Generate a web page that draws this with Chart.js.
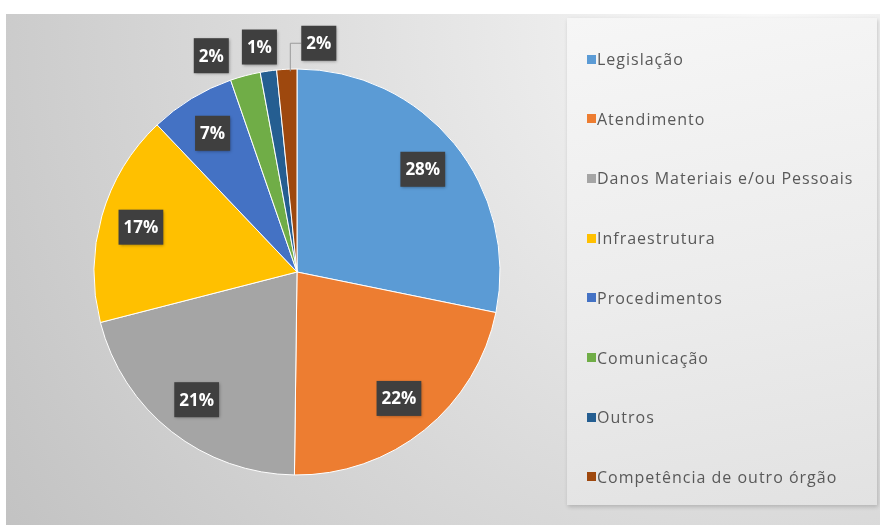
<!DOCTYPE html>
<html>
<head>
<meta charset="utf-8">
<script src="https://cdn.jsdelivr.net/npm/chart.js@4.4.0/dist/chart.umd.min.js"></script>
<style>
  body { margin: 0; background: #fff; width: 880px; height: 525px; overflow: hidden; position: relative; }
  #pie { position: absolute; left: 0; top: 0; }
  #legendBox {
    position: absolute; left: 567px; top: 18px; width: 310px; height: 487px;
    background: linear-gradient(170deg, #f6f6f6 0%, #ececec 55%, #e2e2e2 100%);
    box-shadow: 1px 2px 4px rgba(0,0,0,0.18);
  }
  .item { position: absolute; left: 20px; height: 20px; display: flex; align-items: center;
    font-family: "Open Sans", sans-serif; font-size: 16px; letter-spacing: 1px; color: #595959; white-space: nowrap; }
  .sw { width: 9px; height: 9px; margin-right: 1px; flex: none; }
</style>
</head>
<body>
<canvas id="pie" width="880" height="525"></canvas>
<div id="legendBox"></div>
<script>
const categories = ['Legislação', 'Atendimento', 'Danos Materiais e/ou Pessoais', 'Infraestrutura',
  'Procedimentos', 'Comunicação', 'Outros', 'Competência de outro órgão'];
const shares = [28.2, 22.0, 20.8, 16.9, 6.8, 2.4, 1.3, 1.6];
const sliceColors = ['#5B9BD5', '#ED7D31', '#A5A5A5', '#FFC000', '#4472C4', '#70AD47', '#255E91', '#9E480E'];

// small slices get their label outside, nudged from the slice's outer edge
const outsideNudge = { 5: [-34, -20], 6: [-9, -24], 7: [32, -26] };

// legend (html, built from the same arrays)
const box = document.getElementById('legendBox');
categories.forEach((name, i) => {
  const el = document.createElement('div');
  el.className = 'item';
  el.style.top = (31 + i * 59.7) + 'px';
  el.innerHTML = '<span class="sw" style="background:' + sliceColors[i] + '"></span>' + name;
  box.appendChild(el);
});

const background = {
  id: 'background',
  beforeDraw(chart) {
    const ctx = chart.ctx;
    ctx.save();
    const g = ctx.createRadialGradient(760, 20, 0, 760, 20, 950);
    g.addColorStop(0, '#f8f8f8');
    g.addColorStop(1, '#c0c0c0');
    ctx.fillStyle = g;
    ctx.fillRect(6, 14, chart.width - 6, chart.height - 14);
    ctx.restore();
  }
};

const pieLabels = {
  id: 'pieLabels',
  afterDatasetsDraw(chart) {
    const ctx = chart.ctx;
    const meta = chart.getDatasetMeta(0);
    const total = shares.reduce((a, b) => a + b, 0);
    ctx.save();
    ctx.font = 'bold 17px "Open Sans", sans-serif';
    ctx.textAlign = 'center';
    ctx.textBaseline = 'middle';
    meta.data.forEach((arc, i) => {
      const p = arc.getProps(['x', 'y', 'startAngle', 'endAngle', 'outerRadius'], true);
      const mid = (p.startAngle + p.endAngle) / 2;
      let lx, ly;
      const ex = p.x + Math.cos(mid) * p.outerRadius;
      const ey = p.y + Math.sin(mid) * p.outerRadius;
      if (outsideNudge[i]) {
        lx = ex + outsideNudge[i][0];
        ly = ey + outsideNudge[i][1];
      } else {
        lx = p.x + Math.cos(mid) * p.outerRadius * 0.8;
        ly = p.y + Math.sin(mid) * p.outerRadius * 0.8;
      }
      const txt = Math.round(shares[i] / total * 100) + '%';
      const w = ctx.measureText(txt).width + 10;
      const h = 35;
      if (i === 7) {
        ctx.strokeStyle = '#9a9a9a';
        ctx.lineWidth = 1;
        ctx.beginPath();
        ctx.moveTo(ex + 3.5, ey + 2);
        ctx.lineTo(ex + 3.5, ly);
        ctx.lineTo(lx - w / 2, ly);
        ctx.stroke();
      }
      ctx.shadowColor = 'rgba(0,0,0,0.35)';
      ctx.shadowBlur = 3;
      ctx.shadowOffsetX = 1;
      ctx.shadowOffsetY = 1;
      ctx.fillStyle = '#3f3f3f';
      ctx.fillRect(lx - w / 2, ly - h / 2, w, h);
      ctx.shadowColor = 'transparent';
      ctx.fillStyle = '#ffffff';
      ctx.fillText(txt, lx, ly + 1);
    });
    ctx.restore();
  }
};

new Chart(document.getElementById('pie'), {
  type: 'pie',
  data: {
    labels: categories,
    datasets: [{
      data: shares,
      backgroundColor: sliceColors,
      borderColor: '#ffffff',
      borderWidth: 1,
      radius: 203
    }]
  },
  options: {
    responsive: false,
    animation: false,
    devicePixelRatio: 1,
    layout: { padding: { left: 6, right: 292, top: 30, bottom: 11 } },
    plugins: {
      legend: { display: false },
      tooltip: { enabled: false }
    }
  },
  plugins: [background, pieLabels]
});
</script>
</body>
</html>
